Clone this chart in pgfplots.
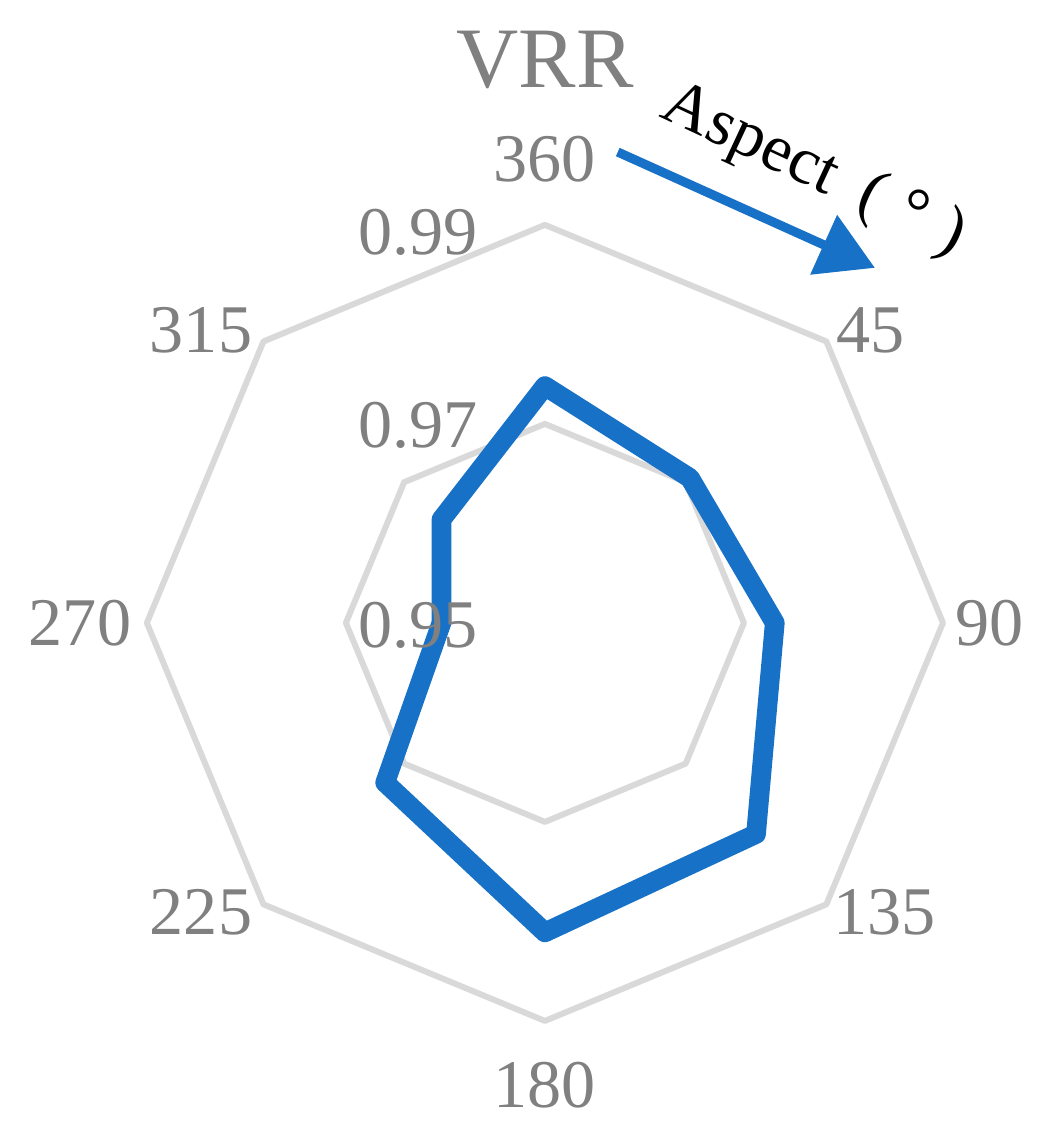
\documentclass[border=0pt]{standalone}
\usepackage{fontspec}
\setmainfont{Liberation Serif}
\usepackage{pgfplots}
\usepackage{pgfplotstable}
\pgfplotsset{compat=1.18}
\usetikzlibrary{arrows.meta}
\definecolor{vrrblue}{RGB}{23,114,199}
\definecolor{gridgray}{RGB}{217,217,217}
\definecolor{labgray}{RGB}{128,128,128}
\tikzset{lab/.style={font=\fontsize{19.4}{23}\selectfont, text=labgray, inner sep=0pt}}

% angle (deg, clockwise from top), value
\pgfplotstableread{
a v
0 0.99
45 0.99
90 0.99
135 0.99
180 0.99
225 0.99
270 0.99
315 0.99
}\gridouter
\pgfplotstableread{
a v
0 0.97
45 0.97
90 0.97
135 0.97
180 0.97
225 0.97
270 0.97
315 0.97
}\gridinner
\pgfplotstableread{
a v
0 0.9738
45 0.9706
90 0.9731
135 0.9800
180 0.9811
225 0.9727
270 0.9604
315 0.9647
}\vrrdata

\begin{document}
\begin{tikzpicture}
\begin{axis}[
    width=10.54cm, height=11.30cm, scale only axis,
    xmin=-1.369, xmax=1.279, ymin=-1.274, ymax=1.565,
    hide axis, clip=false,
]
\path (rel axis cs:0,0) rectangle (rel axis cs:1,1);

\addplot[gridgray, line width=1.7pt, line join=round, no marks]
  table[x expr={(\thisrow{v}-0.95)/0.04*sin(\thisrow{a})},
        y expr={(\thisrow{v}-0.95)/0.04*cos(\thisrow{a})}] {\gridouter} -- cycle;
\addplot[gridgray, line width=1.7pt, line join=round, no marks]
  table[x expr={(\thisrow{v}-0.95)/0.04*sin(\thisrow{a})},
        y expr={(\thisrow{v}-0.95)/0.04*cos(\thisrow{a})}] {\gridinner} -- cycle;

\addplot[vrrblue, line width=5.6pt, line join=round, no marks]
  table[x expr={(\thisrow{v}-0.95)/0.04*sin(\thisrow{a})},
        y expr={(\thisrow{v}-0.95)/0.04*cos(\thisrow{a})}] {\vrrdata} -- cycle;

% value labels
\node[lab] at (axis cs:-0.319,0.982) {0.99};
\node[lab] at (axis cs:-0.319,0.497) {0.97};
\node[lab] at (axis cs:-0.319,-0.005) {0.95};

% angle labels
\node[lab] at (axis cs:0,1.166) {360};
\node[lab] at (axis cs:0.817,0.736) {45};
\node[lab] at (axis cs:1.118,0) {90};
\node[lab] at (axis cs:0.854,-0.726) {135};
\node[lab] at (axis cs:0,-1.161) {180};
\node[lab] at (axis cs:-0.864,-0.726) {225};
\node[lab] at (axis cs:-1.168,0) {270};
\node[lab] at (axis cs:-0.864,0.736) {315};

\node[lab, font=\fontsize{24.5}{29}\selectfont] at (axis cs:0,1.415) {VRR};

\draw[vrrblue, line width=2.6pt, -{Triangle[length=16pt,width=18pt]}]
  (axis cs:0.183,1.183) -- (axis cs:0.829,0.892);
\node[text=black, rotate=-25, inner sep=0pt, font=\fontsize{19}{22}\selectfont]
  at (axis cs:0.675,1.135) {Aspect\hspace{0.45em}(\hspace{0.3em}°\hspace{0.3em})};
\end{axis}
\end{tikzpicture}
\end{document}
